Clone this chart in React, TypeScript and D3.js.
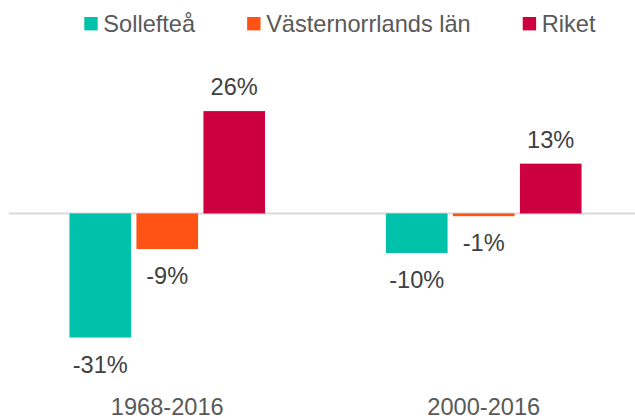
import * as d3 from "d3";
import React, { useEffect, useRef } from "react";

const categories = ["1968-2016", "2000-2016"];
const seriesNames = ["Sollefteå", "Västernorrlands län", "Riket"];
const seriesColors = ["#00C1A9", "#FF5316", "#CC0041"];
const sollefteaValues = [-31.4, -10.0];
const vasternorrlandValues = [-9.0, -0.7];
const riketValues = [25.9, 12.6];

const seriesValues = [sollefteaValues, vasternorrlandValues, riketValues];

const App: React.FC = () => {
  const svgRef = useRef<SVGSVGElement | null>(null);

  useEffect(() => {
    if (!svgRef.current) return;
    const svg = d3.select(svgRef.current);
    svg.selectAll("*").remove();

    const font = "'Liberation Sans', Arial, sans-serif";
    const fontSize = 23.6;

    // Scales
    const x0 = d3
      .scaleBand<string>()
      .domain(categories)
      .range([9, 642])
      .paddingInner(0.382)
      .paddingOuter(0.191);

    const x1 = d3
      .scaleBand<string>()
      .domain(seriesNames)
      .range([0, x0.bandwidth()])
      .paddingInner(0.08);

    const y = d3.scaleLinear().domain([-40, 30]).range([371.5, 94.9]);

    // === Zero line ===
    svg
      .append("line")
      .attr("x1", 9)
      .attr("x2", 642)
      .attr("y1", y(0))
      .attr("y2", y(0))
      .attr("stroke", "#D9D9D9")
      .attr("stroke-width", 2);

    // === Bars + labels ===
    categories.forEach((cat, ci) => {
      const g = svg.append("g").attr("transform", `translate(${x0(cat)},0)`);
      seriesNames.forEach((name, si) => {
        const v = seriesValues[si][ci];
        const bx = x1(name)!;
        g.append("rect")
          .attr("x", bx)
          .attr("width", x1.bandwidth())
          .attr("y", Math.min(y(v), y(0)))
          .attr("height", Math.abs(y(v) - y(0)))
          .attr("fill", seriesColors[si]);
        g.append("text")
          .attr("x", bx + x1.bandwidth() / 2)
          .attr("y", v >= 0 ? y(v) - 16 : y(v) + 35)
          .attr("text-anchor", "middle")
          .attr("font-family", font)
          .attr("font-size", fontSize)
          .attr("fill", "#404040")
          .text(`${Math.round(v)}%`);
      });
    });

    // === Category labels ===
    svg
      .selectAll(".cat")
      .data(categories)
      .enter()
      .append("text")
      .attr("class", "cat")
      .attr("x", (d) => x0(d)! + x0.bandwidth() / 2)
      .attr("y", 415)
      .attr("text-anchor", "middle")
      .attr("font-family", font)
      .attr("font-size", fontSize)
      .attr("fill", "#595959")
      .text((d) => d);

    // === Legend ===
    const legend = svg.append("g");
    let lx = 84.3;
    seriesNames.forEach((name, i) => {
      legend
        .append("rect")
        .attr("x", lx)
        .attr("y", 17)
        .attr("width", 13.4)
        .attr("height", 13.4)
        .attr("fill", seriesColors[i]);
      const t = legend
        .append("text")
        .attr("x", lx + 19)
        .attr("y", 31.5)
        .attr("font-family", font)
        .attr("font-size", fontSize)
        .attr("fill", "#595959")
        .text(name);
      const w = (t.node() as SVGTextElement).getComputedTextLength();
      lx = lx + 19 + w + 52;
    });
  }, []);

  return (
    <svg
      ref={svgRef}
      width={635}
      height={418}
      style={{ position: "absolute", left: 0, top: 0, background: "#fff" }}
    ></svg>
  );
};

export default App;
